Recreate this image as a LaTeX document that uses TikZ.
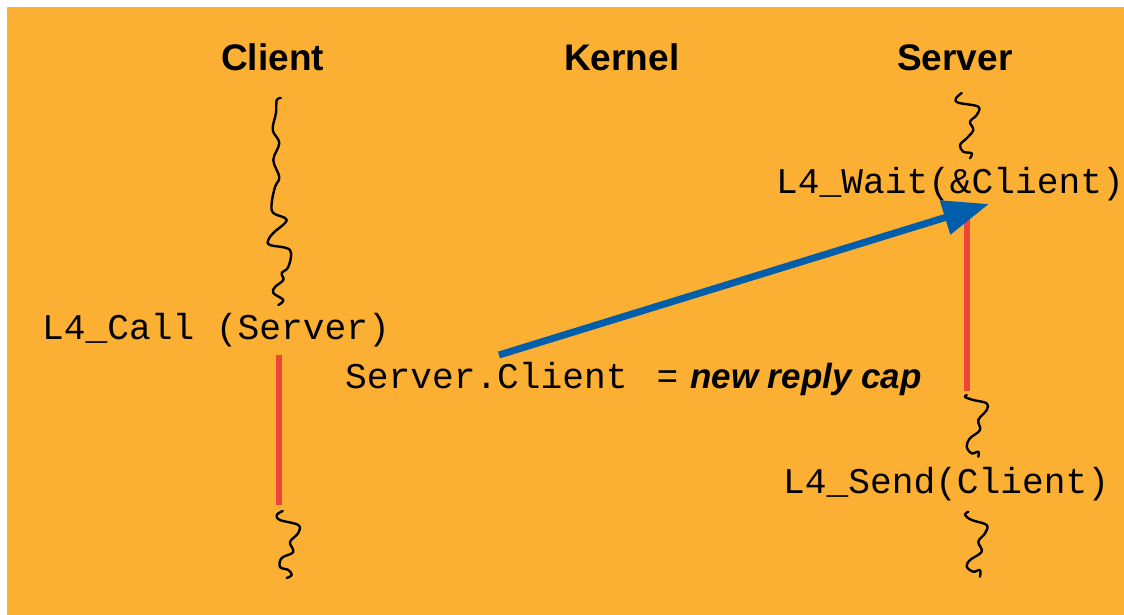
\documentclass[tikz,border=0pt]{standalone}
\usepackage{fontspec}
\setmainfont{Liberation Sans}
\setmonofont{Liberation Mono}
\usetikzlibrary{arrows.meta}
\definecolor{slidebg}{RGB}{251,176,52}
\definecolor{msgblue}{RGB}{0,94,170}
\definecolor{activered}{RGB}{240,68,56}
\tikzset{
  header/.style={font=\fontsize{37}{40}\selectfont\bfseries, inner sep=0pt, anchor=base west},
  code/.style={font=\fontsize{36.2}{40}\selectfont\ttfamily, inner sep=0pt, anchor=base west},
  note/.style={font=\fontsize{35}{40}\selectfont\bfseries\itshape, inner sep=0pt, anchor=base west},
  thread/.style={line width=2.4pt, line cap=round, line join=round},
  active/.style={line width=6pt, activered},
  msg/.style={line width=7pt, msgblue, -{Triangle[length=46pt,width=34pt]}}
}
\begin{document}
\begin{tikzpicture}[x=1pt,y=-1pt]
\useasboundingbox (0,0) rectangle (1124,615);
\fill[white] (0,0) rectangle (1124,615);
\fill[slidebg] (7,7) rectangle (1124,615);

% column headers
\node[header] (hclient) at (221,71) {Client};
\node[header] (hkernel) at (564,71) {Kernel};
\node[header] (hserver) at (897,71) {Server};

% calls
\node[code] (call) at (42,339) {L4\_Call (Server)};
\node[code] (wait) at (776,193) {L4\_Wait(\&Client)};
\node[code] (send) at (783,493) {L4\_Send(Client)};
\node[code] (assign) at (345,388) {Server.Client\hspace{29pt}=};
\node[note] (cap) at (690,388) {new reply cap};

% client thread
\draw[thread] plot[smooth, tension=0.6] coordinates {
  (281,98) (276.7,100) (276,113) (272.7,130) (279.3,143) (273.3,160) (279.3,177)
  (275,187) (271.7,203) (273.3,213) (286.7,220) (273.3,233) (268.3,240) (270,245)
  (290,250) (288.3,267) (281.7,273) (283.3,280) (275,287) (273.3,293) (283.3,300) (278.3,305)};
\draw[thread] plot[smooth, tension=0.6] coordinates {
  (282.7,511) (276.7,515) (280,520) (298.3,525) (298.3,533) (290,542) (293.3,552)
  (281.7,558) (280,567) (288.3,570) (291.7,575) (286.7,578)};

% server thread
\draw[thread] plot[smooth, tension=0.6] coordinates {
  (961.7,93) (956,98.3) (958.3,102.7) (978.3,106.7) (976.7,115) (970,121.7)
  (973.3,130) (966.7,138.3) (960,145) (963.3,151.7) (971.7,153.3) (970,158.3)};
\draw[thread] plot[smooth, tension=0.6] coordinates {
  (966.7,395) (965,397) (973.3,400) (986.7,403.3) (986.7,410) (978.3,420)
  (980,430) (970,438.3) (966.7,446.7) (971.7,453.3) (978.3,451.7) (978.3,456.7)};
\draw[thread] plot[smooth, tension=0.6] coordinates {
  (968.3,511.7) (965,515) (971.7,520) (986.7,525) (985,533.3) (978.3,541.7)
  (981.7,551.7) (970,560) (966.7,566.7) (973.3,571.7) (980,570) (980,576.7)};

% blocked periods
\coordinate (cblk0) at (279,355);
\coordinate (cblk1) at (279,505);
\coordinate (sblk0) at (967,215);
\coordinate (sblk1) at (967,391);
\draw[active] (cblk0) -- (cblk1);
\draw[active] (sblk0) -- (sblk1);

% message from client to waiting server
\coordinate (msgfrom) at (499,355);
\coordinate (msgto) at (989,204);
\draw[msg] (msgfrom) -- (msgto);
\end{tikzpicture}
\end{document}
